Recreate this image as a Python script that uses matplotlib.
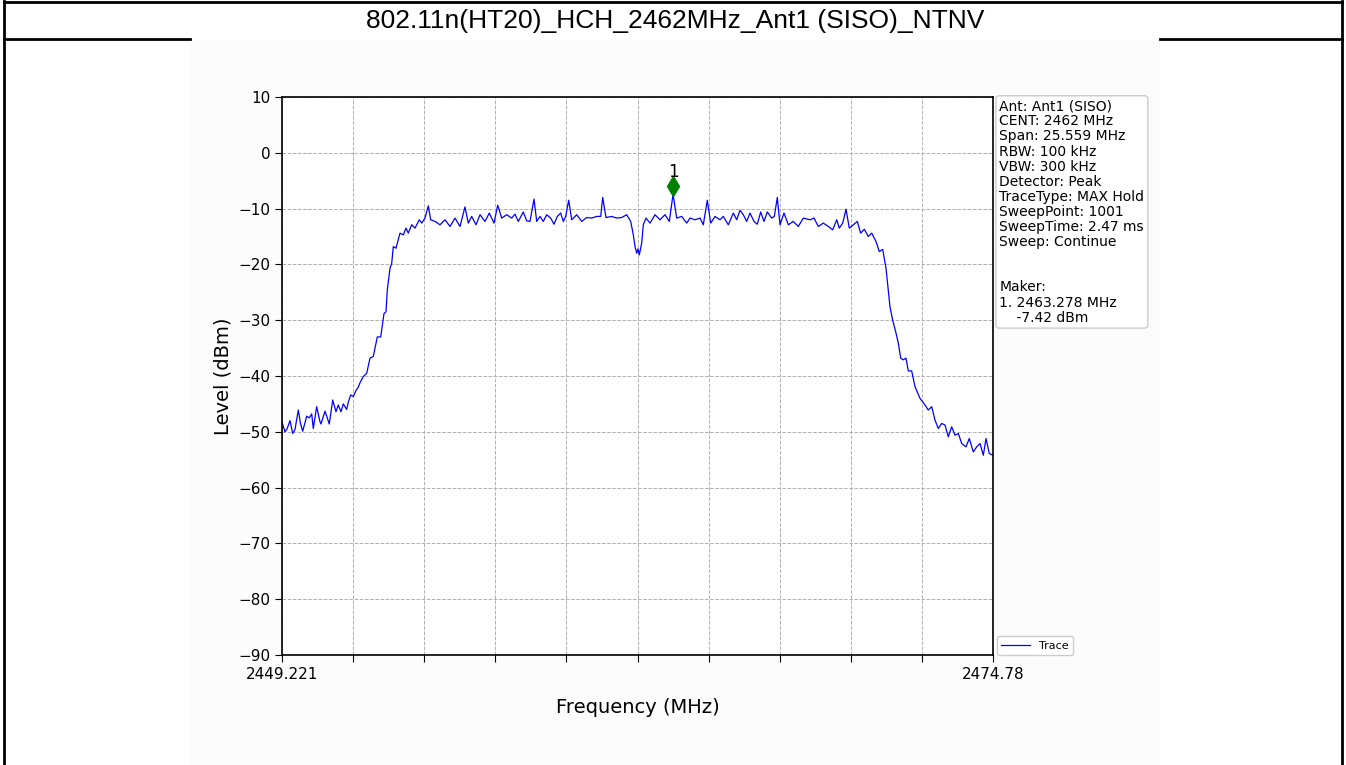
import numpy as np
import matplotlib.pyplot as plt
from matplotlib.lines import Line2D
from matplotlib.patches import Rectangle
from matplotlib.transforms import offset_copy

title = '802.11n(HT20)_HCH_2462MHz_Ant1 (SISO)_NTNV'
start_mhz = 2449.221
stop_mhz = 2474.78
start_label = '2449.221'
stop_label = '2474.78'
n_xticks = 11
y_ticks = [-90, -80, -70, -60, -50, -40, -30, -20, -10, 0, 10]

# trace (MAX Hold), MHz / dBm
freq_mhz = [
    2449.221, 2449.329, 2449.401, 2449.509, 2449.606, 2449.688, 2449.807, 2449.886,
    2449.965, 2450.109, 2450.202, 2450.289, 2450.346, 2450.468, 2450.587, 2450.623,
    2450.767, 2450.921, 2451.044, 2451.162, 2451.245, 2451.342, 2451.425, 2451.547,
    2451.604, 2451.691, 2451.784, 2451.881, 2451.964, 2452.025, 2452.144, 2452.266,
    2452.384, 2452.503, 2452.647, 2452.769, 2452.888, 2452.960, 2453.006, 2453.103,
    2453.165, 2453.222, 2453.319, 2453.463, 2453.582, 2453.679, 2453.761, 2453.883,
    2454.002, 2454.157, 2454.243, 2454.362, 2454.480, 2454.566, 2454.721, 2454.901,
    2455.081, 2455.260, 2455.440, 2455.620, 2455.799, 2455.918, 2456.040, 2456.195,
    2456.339, 2456.518, 2456.673, 2456.842, 2456.975, 2457.119, 2457.299, 2457.478,
    2457.597, 2457.716, 2457.895, 2458.017, 2458.136, 2458.280, 2458.377, 2458.496,
    2458.614, 2458.736, 2458.880, 2458.999, 2459.118, 2459.240, 2459.333, 2459.419,
    2459.527, 2459.635, 2459.815, 2459.995, 2460.174, 2460.354, 2460.534, 2460.678,
    2460.750, 2460.868, 2461.073, 2461.253, 2461.432, 2461.612, 2461.756, 2461.850,
    2461.911, 2461.972, 2462.018, 2462.065, 2462.151, 2462.209, 2462.306, 2462.450,
    2462.630, 2462.809, 2462.989, 2463.144, 2463.278, 2463.410, 2463.589, 2463.769,
    2463.888, 2464.068, 2464.247, 2464.366, 2464.510, 2464.632, 2464.786, 2464.966,
    2465.085, 2465.265, 2465.445, 2465.567, 2465.685, 2465.804, 2465.926, 2466.045,
    2466.188, 2466.307, 2466.429, 2466.548, 2466.667, 2466.825, 2466.919, 2467.026,
    2467.123, 2467.267, 2467.422, 2467.601, 2467.781, 2467.961, 2468.202, 2468.345,
    2468.500, 2468.680, 2468.859, 2469.018, 2469.162, 2469.255, 2469.377, 2469.496,
    2469.614, 2469.758, 2469.902, 2470.024, 2470.154, 2470.297, 2470.420, 2470.574,
    2470.693, 2470.815, 2470.934, 2471.016, 2471.077, 2471.174, 2471.293, 2471.376,
    2471.462, 2471.556, 2471.653, 2471.735, 2471.857, 2471.976, 2472.156, 2472.336,
    2472.454, 2472.576, 2472.695, 2472.814, 2472.936, 2473.055, 2473.173, 2473.295,
    2473.414, 2473.533, 2473.655, 2473.809, 2473.928, 2474.072, 2474.194, 2474.313,
    2474.432, 2474.529, 2474.647, 2474.780,
]
level_dbm = [
    -48.3, -50.0, -49.5, -48.0, -50.3, -49.6, -46.1, -48.5,
    -49.9, -47.2, -47.5, -46.8, -49.4, -45.5, -48.2, -48.6,
    -46.3, -48.6, -44.3, -46.4, -45.2, -46.4, -45.0, -46.0,
    -44.7, -43.4, -43.7, -42.6, -42.0, -41.2, -40.1, -39.5,
    -36.8, -36.5, -33.0, -33.0, -28.8, -28.5, -24.6, -20.7,
    -19.8, -16.8, -17.1, -14.4, -14.7, -13.5, -14.4, -12.9,
    -13.5, -12.0, -12.6, -11.7, -9.5, -12.0, -12.3, -12.9,
    -12.0, -13.2, -11.7, -13.2, -9.7, -12.6, -11.4, -12.9,
    -11.1, -12.3, -10.8, -12.6, -9.4, -11.7, -11.1, -11.7,
    -11.0, -12.3, -10.6, -12.2, -12.3, -8.3, -12.3, -11.4,
    -12.3, -11.1, -11.7, -12.8, -11.4, -10.8, -12.3, -11.4,
    -8.5, -12.0, -11.1, -12.3, -11.6, -11.7, -11.4, -11.4,
    -8.0, -11.6, -11.4, -11.7, -11.6, -11.1, -12.3, -14.7,
    -16.8, -18.0, -17.2, -18.3, -16.2, -12.9, -11.7, -12.6,
    -11.1, -12.0, -11.1, -12.3, -7.42, -11.7, -11.4, -12.6,
    -11.7, -12.0, -11.7, -12.9, -8.5, -12.6, -11.4, -12.0,
    -11.4, -12.9, -10.8, -12.0, -10.3, -11.1, -12.3, -10.8,
    -12.3, -12.8, -10.6, -12.3, -10.6, -11.7, -11.4, -8.0,
    -12.9, -10.8, -12.9, -12.3, -13.2, -11.7, -12.0, -11.7,
    -13.2, -12.6, -13.2, -13.8, -12.0, -13.5, -12.6, -10.1,
    -13.5, -12.9, -12.3, -14.4, -13.7, -15.0, -14.4, -15.9,
    -17.7, -17.3, -20.7, -24.6, -27.6, -30.0, -32.3, -34.1,
    -36.8, -37.1, -36.8, -39.1, -39.1, -41.9, -44.0, -45.2,
    -46.1, -45.5, -47.9, -49.4, -48.5, -48.8, -50.9, -49.1,
    -50.6, -50.3, -52.1, -52.7, -51.2, -53.6, -52.7, -52.1,
    -54.2, -51.2, -53.9, -54.2,
]

marker_freq = 2463.278
marker_level = -7.42

info_lines = [
    'Ant: Ant1 (SISO)',
    'CENT: 2462 MHz',
    'Span: 25.559 MHz',
    'RBW: 100 kHz',
    'VBW: 300 kHz',
    'Detector: Peak',
    'TraceType: MAX Hold',
    'SweepPoint: 1001',
    'SweepTime: 2.47 ms',
    'Sweep: Continue',
    '',
    '',
    'Maker:',
    f'1. {marker_freq:.3f} MHz',
    f'    {marker_level:.2f} dBm',
]

W, H = 1346, 765
fig = plt.figure(figsize=(W / 100, H / 100), dpi=100)

# report frame and title cell
frame_kw = dict(color='black', linewidth=2, transform=fig.transFigure)
fig.add_artist(Line2D([0.003, 0.003], [0, 0.999], **frame_kw))
fig.add_artist(Line2D([0.997, 0.997], [0, 0.999], **frame_kw))
fig.add_artist(Line2D([0.003, 0.997], [0.998, 0.998], **frame_kw))
fig.add_artist(Line2D([0.003, 190 / W], [1 - 39 / H, 1 - 39 / H], **frame_kw))
fig.add_artist(Line2D([1160 / W, 0.997], [1 - 39 / H, 1 - 39 / H], **frame_kw))
fig.add_artist(Rectangle((190 / W, 0), 970 / W, 1 - 40 / H, transform=fig.transFigure,
                         facecolor='#fcfcfc', edgecolor='none', zorder=0))
fig.text(0.5015, 1 - 21 / H, title, ha='center', va='center',
         fontsize=19, family='Liberation Sans')

ax = fig.add_axes([282 / W, 1 - 655 / H, 711 / W, 558 / H])
ax.plot(freq_mhz, level_dbm, color='blue', linewidth=0.9, label='Trace')

# marker 1, drawn a little above the trace peak
mk_trans = offset_copy(ax.transData, fig=fig, y=8, units='dots')
ax.plot(marker_freq, marker_level, marker='d', color='green', markersize=10,
        linestyle='none', transform=mk_trans)
ax.annotate('1', (marker_freq, marker_level), xytext=(0, 22), textcoords='offset pixels',
            ha='center', va='center', fontsize=12)

ax.set_xlim(start_mhz, stop_mhz)
ax.set_ylim(-90, 10)
xt = np.linspace(start_mhz, stop_mhz, n_xticks)
ax.set_xticks(xt)
ax.set_xticklabels([start_label] + [''] * (n_xticks - 2) + [stop_label])
ax.set_yticks(y_ticks)
ax.tick_params(labelsize=11, length=5)
ax.grid(True, linestyle='--', color='#b0b0b0', linewidth=0.7)
for sp in ax.spines.values():
    sp.set_linewidth(1.2)
ax.set_xlabel('Frequency (MHz)', fontsize=14, labelpad=12)
ax.set_ylabel('Level (dBm)', fontsize=14)

ax.text(1.009, 0.996, '\n'.join(info_lines), transform=ax.transAxes, ha='left', va='top',
        fontsize=10, linespacing=1.1,
        bbox=dict(boxstyle='round,pad=0.25', facecolor='white', edgecolor='#cccccc'))
ax.legend(loc='lower left', bbox_to_anchor=(1.005, 0.0), borderaxespad=0, fontsize=8,
          framealpha=1, edgecolor='#cccccc', handlelength=2.6)

fig.savefig('out.png', dpi=100)
